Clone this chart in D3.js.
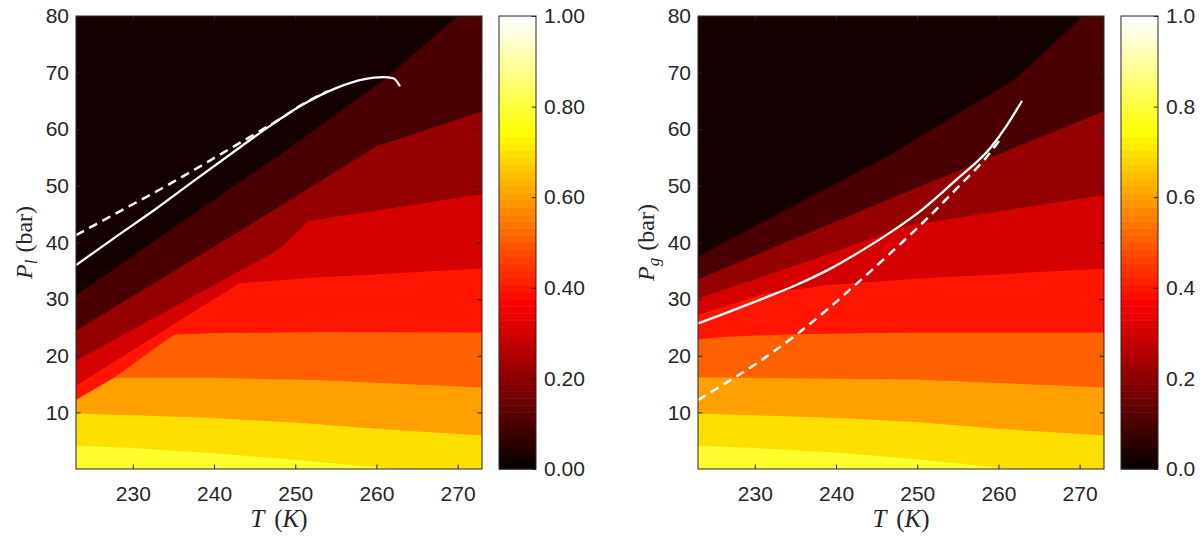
<!DOCTYPE html>
<html>
<head>
<meta charset="utf-8">
<script src="https://cdnjs.cloudflare.com/ajax/libs/d3/7.8.5/d3.min.js"></script>
<style>
  body { margin: 0; background: #fff; }
  text { font-family: "Liberation Sans", Arial, sans-serif; fill: #262626; }
  .lbl { font-family: "Liberation Serif", "Times New Roman", serif; }
</style>
</head>
<body>
<script>
const w = 1202;
const h = 540;
const plotW = 406;
const plotH = 453;
const plotTop = 16;

// axis ticks
const tempTicks = [230, 240, 250, 260, 270];
const presTicks = [10, 20, 30, 40, 50, 60, 70, 80];
const cbTicks = [0, 0.2, 0.4, 0.6, 0.8, 1];
const levels = [0.1, 0.2, 0.3, 0.4, 0.5, 0.6, 0.7, 0.8];

// contour boundaries, liquid pressure panel  [T (K), P (bar)]
const pl01 = [[223, 30.7], [248.9, 56.3], [261.3, 69.1], [270.0, 80.0], [273, 83.8]];
const pl02 = [[223, 24.4], [246.9, 45.3], [260.0, 57.0], [273, 63.2]];
const pl03 = [[223, 19.1], [246.9, 37.9], [248.5, 39.4], [251.6, 43.8], [273, 48.5]];
const pl04 = [[223, 14.7], [243.1, 32.8], [252.6, 33.8], [273, 35.4]];
const pl05 = [[223, 12.2], [227.7, 16.1], [232.9, 21.5], [235.1, 23.7], [240, 24.0], [252.6, 24.2], [273, 24.1]];
const pl06 = [[223, 12.2], [227.7, 16.1], [240, 16.1], [252.6, 15.7], [262, 15.1], [273, 14.4]];
const pl07 = [[223, 9.8], [230, 9.5], [240, 9.0], [250, 8.2], [260, 7.1], [273, 5.9]];
const pl08 = [[223, 4.1], [230, 3.7], [240, 2.8], [250, 1.6], [262.5, 0], [273, -1.5]];

// contour boundaries, gas pressure panel
const pg01 = [[223, 37.5], [232, 44.4], [240.8, 51.0], [246.6, 55.4], [262.0, 68.8], [270.5, 80.0], [273, 83.5]];
const pg02 = [[223, 33.5], [246.6, 47.7], [273, 63.2]];
const pg03 = [[223, 30.1], [238, 37.4], [248.5, 42.9], [273, 48.4]];
const pg04 = [[223, 27.2], [227, 29.0], [231, 30.9], [239, 32.5], [249.8, 33.6], [273, 35.4]];
const pg05 = [[223, 22.9], [227, 23.4], [235, 23.8], [250, 24.1], [273, 24.1]];
const pg06 = [[223, 16.2], [250, 15.8], [260, 15.2], [273, 14.4]];
const pg07 = [[223, 9.8], [230, 9.5], [240, 9.0], [250, 8.3], [260, 7.1], [273, 5.9]];
const pg08 = [[223, 4.1], [230, 3.7], [240, 2.9], [250, 1.7], [261.5, 0], [273, -1.4]];

// white curves
const plSolid = [[223, 36.0], [227.9, 41.0], [232.9, 46.0], [237.8, 51.2], [242.7, 56.3], [246.9, 60.6],
                 [251.0, 64.4], [255.1, 67.3], [258.4, 68.8], [260.8, 69.2], [262.1, 69.0], [262.9, 67.6]];
const plDashed = [[223, 41.3], [228, 45.2], [233, 49.1], [238, 53.2], [242, 56.6], [245.2, 59.3],
                  [248, 61.7], [251.0, 64.5], [254, 66.7]];
const pgSolid = [[223, 25.7], [226.9, 27.8], [231.0, 30.1], [235.1, 32.5], [239.2, 35.3], [243.3, 38.7],
                 [246.6, 41.7], [250.7, 45.9], [254.9, 51.2], [259.0, 56.7], [261.0, 60.6], [262.9, 65.0]];
const pgDashed = [[223, 12.2], [226.9, 15.6], [231.0, 19.4], [235.1, 23.7], [239.2, 28.5], [243.3, 33.7],
                  [246.6, 38.0], [250.7, 43.5], [254.9, 49.6], [258.6, 55.2], [260.2, 58.2]];

const plBounds = [pl01, pl02, pl03, pl04, pl05, pl06, pl07, pl08];
const pgBounds = [pg01, pg02, pg03, pg04, pg05, pg06, pg07, pg08];

// matlab hot(64)
function hot(i) {
  const k = i + 1;
  const r = Math.min(k / 24, 1);
  const g = Math.min(Math.max((k - 24) / 24, 0), 1);
  const b = Math.min(Math.max((k - 48) / 16, 0), 1);
  return d3.rgb(r * 255, g * 255, b * 255).formatHex();
}
const levelColor = (v) => hot(Math.round(v * 63));

const svg = d3.select("body")
              .append("svg")
              .attr("width", w)
              .attr("height", h);

const panels = [
  {id: "pl", left: 76, cbLeft: 499, bounds: plBounds, solid: plSolid, dashed: plDashed, sub: "l", fmt: ".2f"},
  {id: "pg", left: 698, cbLeft: 1121, bounds: pgBounds, solid: pgSolid, dashed: pgDashed, sub: "g", fmt: ".1f"}
];

panels.forEach(function(p) {
  const xScale = d3.scaleLinear().domain([223, 273]).range([0, plotW]);
  const yScale = d3.scaleLinear().domain([0, 80]).range([plotH, 0]);

  const g = svg.append("g").attr("transform", "translate(" + p.left + "," + plotTop + ")");

  g.append("clipPath").attr("id", "clip-" + p.id)
   .append("rect").attr("width", plotW).attr("height", plotH);

  const body = g.append("g").attr("clip-path", "url(#clip-" + p.id + ")");

  // lowest band (data minimum sits a bit above 0)
  body.append("rect")
      .attr("width", plotW)
      .attr("height", plotH)
      .attr("fill", hot(1));

  const area = d3.area()
                 .x(d => xScale(d[0]))
                 .y0(plotH + 20)
                 .y1(d => yScale(d[1]));

  body.selectAll(".band")
      .data(levels)
      .enter()
      .append("path")
      .attr("class", "band")
      .attr("d", (d, i) => area(p.bounds[i]))
      .attr("fill", d => levelColor(d));

  const line = d3.line()
                 .x(d => xScale(d[0]))
                 .y(d => yScale(d[1]))
                 .curve(d3.curveMonotoneX);

  body.append("path")
      .attr("d", line(p.dashed))
      .attr("fill", "none")
      .attr("stroke", "#fff")
      .attr("stroke-width", 2.5)
      .attr("stroke-dasharray", "9,6");

  body.append("path")
      .attr("d", line(p.solid))
      .attr("fill", "none")
      .attr("stroke", "#fff")
      .attr("stroke-width", 2.3);

  // axes, ticks pointing inwards
  const xAxis = d3.axisBottom(xScale).tickValues(tempTicks).tickSizeInner(-4.5).tickSizeOuter(0).tickPadding(17);
  const yAxis = d3.axisLeft(yScale).tickValues(presTicks).tickSizeInner(-4.5).tickSizeOuter(0).tickPadding(7);
  const xTop = d3.axisTop(xScale).tickValues(tempTicks).tickSizeInner(-4.5).tickSizeOuter(0).tickFormat("");
  const yRight = d3.axisRight(yScale).tickValues(presTicks).tickSizeInner(-4.5).tickSizeOuter(0).tickFormat("");

  g.append("g").attr("transform", "translate(0," + plotH + ")").call(xAxis);
  g.append("g").call(yAxis);
  g.append("g").call(xTop);
  g.append("g").attr("transform", "translate(" + plotW + ",0)").call(yRight);

  g.selectAll(".domain").remove();
  g.selectAll(".tick line").attr("stroke", "#262626");
  g.selectAll(".tick text").style("font-size", "21px").attr("fill", "#262626");

  g.append("rect")
   .attr("width", plotW)
   .attr("height", plotH)
   .attr("fill", "none")
   .attr("stroke", "#262626")
   .attr("stroke-width", 1);

  // axis labels
  const xl = svg.append("text")
                .attr("class", "lbl")
                .attr("x", p.left + plotW / 2)
                .attr("y", 527)
                .attr("text-anchor", "middle")
                .style("font-size", "25px");
  xl.append("tspan").attr("font-style", "italic").text("T");
  xl.append("tspan").attr("dx", 10).text("(");
  xl.append("tspan").attr("font-style", "italic").text("K");
  xl.append("tspan").text(")");

  const yl = svg.append("text")
                .attr("class", "lbl")
                .attr("transform", "translate(" + (p.left - 44) + "," + (plotTop + plotH / 2) + ") rotate(-90)")
                .attr("text-anchor", "middle")
                .style("font-size", "24px");
  yl.append("tspan").attr("font-style", "italic").text("P");
  yl.append("tspan").attr("font-style", "italic").attr("dy", 5).style("font-size", "17px").text(p.sub);
  yl.append("tspan").attr("dy", -5).attr("dx", 7).text("(bar)");

  // colorbar
  const cbW = 37;
  const cbScale = d3.scaleLinear().domain([0, 1]).range([plotH, 0]);
  const cb = svg.append("g").attr("transform", "translate(" + p.cbLeft + "," + plotTop + ")");
  const steps = d3.range(64);
  cb.selectAll(".cstep")
    .data(steps)
    .enter()
    .append("rect")
    .attr("class", "cstep")
    .attr("x", 0)
    .attr("width", cbW)
    .attr("y", d => cbScale((d + 1) / 64))
    .attr("height", cbScale(0) - cbScale(1 / 64) + 0.5)
    .attr("fill", d => hot(d));

  const cbAxis = d3.axisRight(cbScale).tickValues(cbTicks).tickSizeInner(-4.3).tickSizeOuter(0)
                   .tickPadding(8).tickFormat(d3.format(p.fmt));
  cb.append("g").attr("transform", "translate(" + cbW + ",0)").call(cbAxis);
  cb.selectAll(".domain").remove();
  cb.selectAll(".tick line").attr("stroke", "#262626");
  cb.selectAll(".tick text").style("font-size", "21px").attr("fill", "#262626");
  cb.append("rect")
    .attr("width", cbW)
    .attr("height", plotH)
    .attr("fill", "none")
    .attr("stroke", "#262626")
    .attr("stroke-width", 1);
});
</script>
</body>
</html>
